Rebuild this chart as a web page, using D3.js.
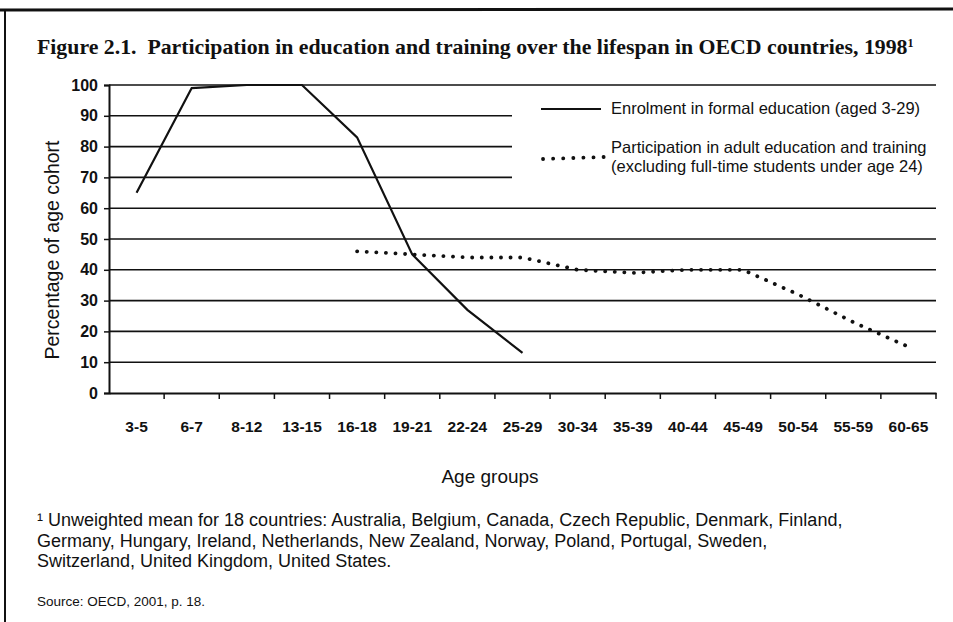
<!DOCTYPE html>
<html>
<head>
<meta charset="utf-8">
<script src="https://cdn.jsdelivr.net/npm/d3@7"></script>
<style>
  body { margin: 0; background: #fff; }
  svg text { fill: #111; }
</style>
</head>
<body>
<svg id="chart" width="953" height="622"></svg>
<script>
// Age groups along the x axis
const ageGroups = ["3-5", "6-7", "8-12", "13-15", "16-18", "19-21", "22-24", "25-29",
  "30-34", "35-39", "40-44", "45-49", "50-54", "55-59", "60-65"];

// Enrolment in formal education (aged 3-29), % of age cohort
const enrolment = [65, 99, 100, 100, 83, 45, 27, 13, null, null, null, null, null, null, null];

// Participation in adult education and training, % of age cohort
const adultEducation = [null, null, null, null, 46, 45, 44, 44, 40, 39, 40, 40, 32, 23, 15];

const yTicks = [0, 10, 20, 30, 40, 50, 60, 70, 80, 90, 100];

const legendLabels = [
  ["Enrolment in formal education (aged 3-29)"],
  ["Participation in adult education and training", "(excluding full-time students under age 24)"]
];

const footnoteLines = [
  "\u00B9  Unweighted mean for 18 countries: Australia, Belgium, Canada, Czech Republic, Denmark, Finland,",
  "Germany, Hungary, Ireland, Netherlands, New Zealand, Norway, Poland, Portugal, Sweden,",
  "Switzerland, United Kingdom, United States."
];

const svg = d3.select("#chart");
const sans = "'Liberation Sans', Arial, sans-serif";

// frame (top and left border of the scanned box)
svg.append("line").attr("x1", 0).attr("y1", 10).attr("x2", 953).attr("y2", 9)
  .attr("stroke", "#111").attr("stroke-width", 3);
svg.append("line").attr("x1", 5).attr("y1", 10).attr("x2", 5).attr("y2", 622)
  .attr("stroke", "#111").attr("stroke-width", 2);

// title
const title = svg.append("text")
  .attr("x", 37).attr("y", 54)
  .style("font-family", "'Liberation Serif', 'Times New Roman', serif")
  .style("font-weight", "bold")
  .style("font-size", "21.8px");
title.append("tspan").text("Figure 2.1.\u00A0\u00A0Participation in education and training over the lifespan in OECD countries, 1998");
title.append("tspan").attr("dy", -7).style("font-size", "12px").text("1");

const x = d3.scaleBand().domain(ageGroups).range([109, 936]);
const y = d3.scaleLinear().domain([0, 100]).range([393, 85]);

// gridlines
svg.append("g")
  .selectAll("line")
  .data(yTicks.filter(d => d > 0))
  .join("line")
  .attr("x1", 109).attr("x2", 936)
  .attr("y1", d => y(d)).attr("y2", d => y(d))
  .attr("stroke", "#111").attr("stroke-width", 1.6);

// legend area blanks out part of the gridlines
svg.append("rect").attr("x", 512).attr("y", y(96)).attr("width", 424).attr("height", y(63) - y(96))
  .attr("fill", "#fff");

// y axis
const yAxis = svg.append("g")
  .attr("transform", "translate(109,0)")
  .call(d3.axisLeft(y).tickValues(yTicks).tickSize(5).tickPadding(6));
yAxis.select(".domain").attr("stroke", "#111").attr("stroke-width", 2);
yAxis.selectAll(".tick line").attr("stroke", "#111").attr("stroke-width", 1.5);
yAxis.selectAll(".tick text")
  .style("font-family", sans).style("font-size", "16px").style("font-weight", "bold")
  .attr("fill", "#111");

// x axis
const xAxis = svg.append("g")
  .attr("transform", "translate(0,393)")
  .call(d3.axisBottom(x).tickSize(0).tickPadding(28));
xAxis.select(".domain").attr("stroke", "#111").attr("stroke-width", 2);
xAxis.selectAll(".tick text")
  .style("font-family", sans).style("font-size", "15.5px").style("font-weight", "bold")
  .attr("fill", "#111");
// tick marks between categories
svg.append("g")
  .selectAll("line")
  .data(ageGroups)
  .join("line")
  .attr("x1", d => x(d) + x.bandwidth()).attr("x2", d => x(d) + x.bandwidth())
  .attr("y1", 393).attr("y2", 399)
  .attr("stroke", "#111").attr("stroke-width", 1.5);

// axis titles
svg.append("text")
  .attr("transform", "translate(59,250) rotate(-90)")
  .attr("text-anchor", "middle")
  .style("font-family", sans).style("font-size", "19.5px")
  .text("Percentage of age cohort");

svg.append("text")
  .attr("x", 490).attr("y", 483)
  .attr("text-anchor", "middle")
  .style("font-family", sans).style("font-size", "19px")
  .text("Age groups");

// series
const line = d3.line()
  .defined(d => d.v !== null)
  .x(d => x(d.k) + x.bandwidth() / 2)
  .y(d => y(d.v));

svg.append("path")
  .datum(ageGroups.map((k, i) => ({ k, v: enrolment[i] })))
  .attr("d", line)
  .attr("fill", "none").attr("stroke", "#111").attr("stroke-width", 2.2);

svg.append("path")
  .datum(ageGroups.map((k, i) => ({ k, v: adultEducation[i] })))
  .attr("d", line)
  .attr("fill", "none").attr("stroke", "#111").attr("stroke-width", 3.8)
  .attr("stroke-linecap", "round").attr("stroke-dasharray", "0.1 9.5");

// legend
const legend = svg.append("g").style("font-family", sans).style("font-size", "16.5px");
legend.append("line").attr("x1", 541).attr("x2", 601).attr("y1", 109).attr("y2", 109)
  .attr("stroke", "#111").attr("stroke-width", 2);
legend.append("line").attr("x1", 543).attr("x2", 604).attr("y1", 159).attr("y2", 157)
  .attr("stroke", "#111").attr("stroke-width", 3.8)
  .attr("stroke-linecap", "round").attr("stroke-dasharray", "0.1 10");
legend.append("text").attr("x", 611).attr("y", 114).text(legendLabels[0][0]);
legend.append("text").attr("x", 611).attr("y", 153).text(legendLabels[1][0]);
legend.append("text").attr("x", 611).attr("y", 172).text(legendLabels[1][1]);

// footnote and source
const foot = svg.append("g").style("font-family", sans).style("font-size", "18px");
foot.selectAll("text")
  .data(footnoteLines)
  .join("text")
  .attr("x", 37).attr("y", (d, i) => 526 + i * 20.5)
  .text(d => d);

svg.append("text")
  .attr("x", 37).attr("y", 606)
  .style("font-family", sans).style("font-size", "13.5px")
  .text("Source: OECD, 2001, p. 18.");
</script>
</body>
</html>
